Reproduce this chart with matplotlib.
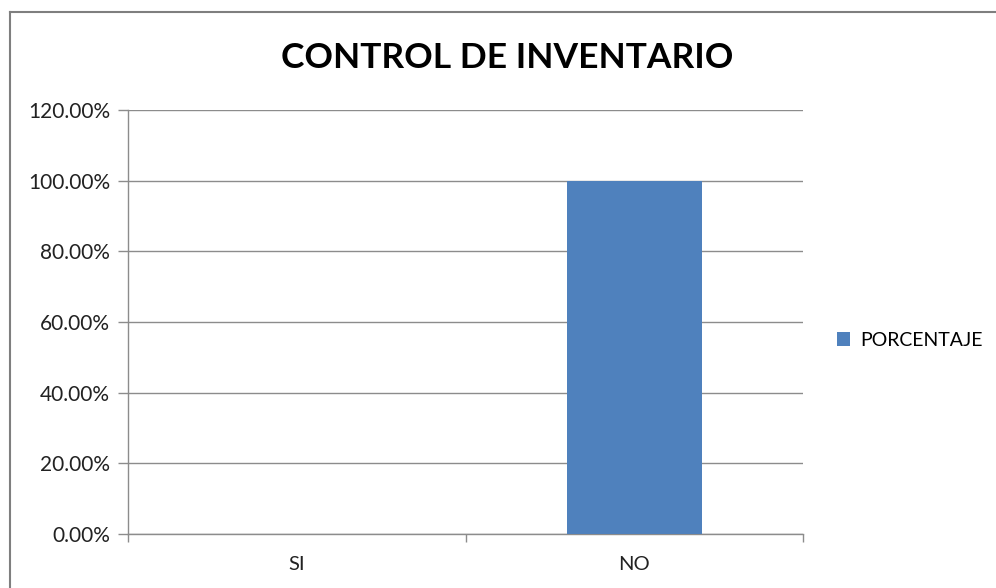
import matplotlib.pyplot as plt
import numpy as np

# datos
categorias = ['SI', 'NO']
porcentaje = [0.0, 1.0]
yticks = [0.0, 0.2, 0.4, 0.6, 0.8, 1.0, 1.2]

plt.rcParams['font.family'] = ['Lato', 'DejaVu Sans']

fig = plt.figure(figsize=(9.96, 5.88), dpi=100)
ax = fig.add_axes([128/996, 54/588, 675/996, 424/588])

gris = '#8c8c8c'
x = np.arange(len(categorias))
ax.bar(x, porcentaje, width=0.4, color='#4F81BD', label='PORCENTAJE', zorder=3)

ax.set_xlim(-0.5, 1.5)
ax.set_ylim(0, 1.2)
ax.set_yticks(yticks)
ax.set_yticklabels(['%.2f%%' % (v * 100) for v in yticks], fontsize=15, color='#222222')
ax.set_xticks(x)
ax.set_xticklabels(categorias, fontsize=14.5, color='#222222')
ax.set_xticks([-0.5, 0.5, 1.5], minor=True)
ax.tick_params(axis='x', which='major', length=0, pad=16)
ax.tick_params(axis='x', which='minor', length=6, color=gris, width=1)
ax.tick_params(axis='y', length=7, color=gris, width=1, pad=6)

ax.grid(axis='y', color=gris, linewidth=1, zorder=0)
for s in ['top', 'right']:
    ax.spines[s].set_visible(False)
for s in ['left', 'bottom']:
    ax.spines[s].set_color(gris)
    ax.spines[s].set_linewidth(1)

fig.text(507/996, 1 - 58/588, 'CONTROL DE INVENTARIO', fontsize=25.5, fontweight='bold',
         ha='center', va='center', color='black')

fig.legend(loc='center left', bbox_to_anchor=(819/996, 1 - 340/588), frameon=False,
           fontsize=14, handlelength=0.7, handleheight=0.7, handletextpad=0.5)

# marco del grafico
fig.add_artist(plt.Line2D([10/996, 10/996], [0, 1 - 12/588], transform=fig.transFigure,
                          color='#7f7f7f', linewidth=1.5))
fig.add_artist(plt.Line2D([10/996, 1], [1 - 12/588, 1 - 12/588], transform=fig.transFigure,
                          color='#7f7f7f', linewidth=1.5))

fig.savefig('out.png', dpi=100)
